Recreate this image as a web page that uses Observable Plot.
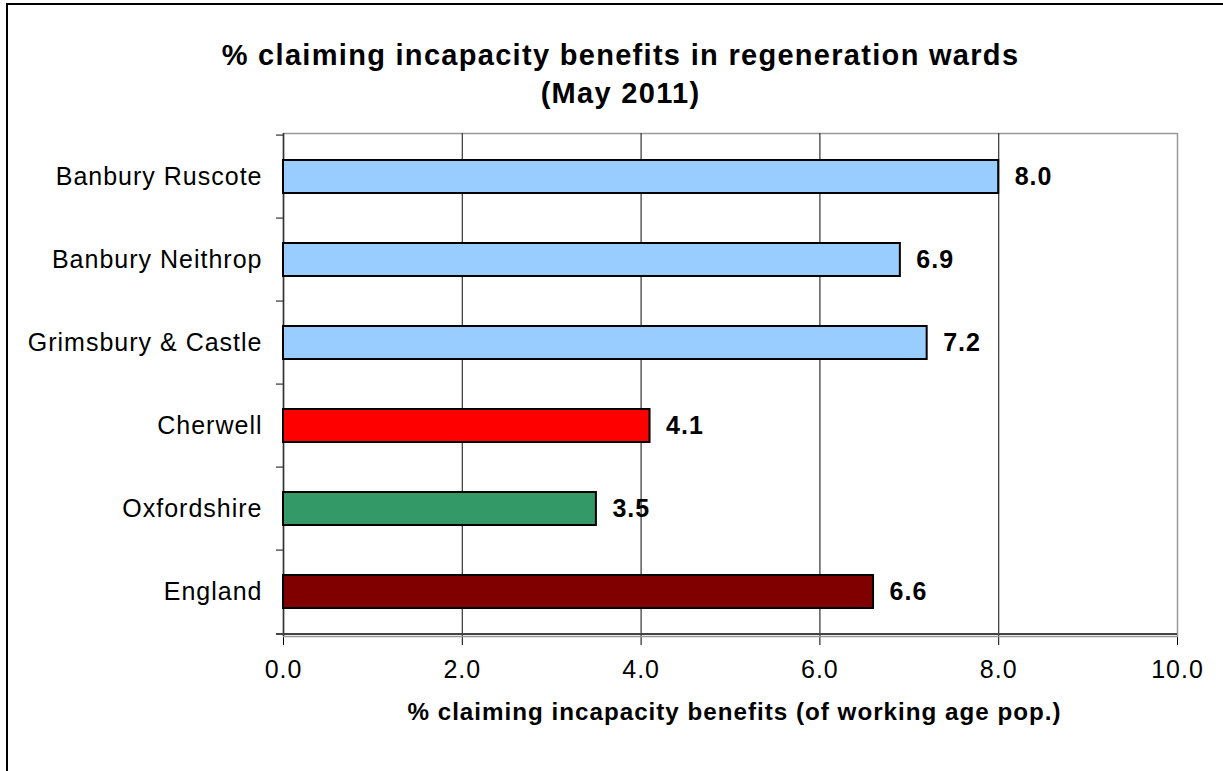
<!DOCTYPE html>
<html><head><meta charset="utf-8">
<script src="https://cdn.jsdelivr.net/npm/d3@7"></script>
<script src="https://cdn.jsdelivr.net/npm/@observablehq/plot@0.6"></script>
<style>
body{margin:0;background:#fff;font-family:"Liberation Sans",Arial,sans-serif;}
#frame{position:absolute;left:6px;top:3px;width:1217px;height:768px;border-top:2px solid #000;border-left:2px solid #000;overflow:hidden;}
#title{height:110px;box-sizing:border-box;padding-top:31px;padding-left:8px;text-align:center;font-weight:bold;font-size:29px;line-height:38px;letter-spacing:1.3px;color:#000;}
</style></head>
<body>
<div id="frame"><div id="title"></div><div id="chart"></div></div>
<script>
const titleLines = ["% claiming incapacity benefits in regeneration wards", "(May 2011)"];
const categories = ["Banbury Ruscote", "Banbury Neithrop", "Grimsbury & Castle", "Cherwell", "Oxfordshire", "England"];
const values = [8.0, 6.9, 7.2, 4.1, 3.5, 6.6];
const colors = ["#99CCFF", "#99CCFF", "#99CCFF", "#FF0000", "#339966", "#800000"];
const xTicks = [0, 2, 4, 6, 8, 10];
const gridTicks = [2, 4, 6, 8];
const xLabel = "% claiming incapacity benefits (of working age pop.)";

document.getElementById("title").innerHTML = titleLines.map(s => s.replace(/&/g,"&amp;")).join("<br>");

const data = categories.map((name, i) => ({name, value: values[i], color: colors[i]}));

const W = 1215, H = 651, mt = 18, mb = 130, ml = 275, mr = 46;
const pi = 0.6, po = 0.3;
const step = (H - mt - mb) / (categories.length - pi + 2 * po);

const chart = Plot.plot({
  width: W, height: H,
  marginTop: mt, marginBottom: mb, marginLeft: ml, marginRight: mr,
  style: {fontFamily: "'Liberation Sans', Arial, sans-serif", fontSize: "25px", color: "#000", background: "#fff", letterSpacing: "1px"},
  x: {domain: [0, 10], ticks: xTicks, tickFormat: d => d.toFixed(1), tickSize: 9, tickPadding: 15, label: null},
  y: {domain: categories, paddingInner: pi, paddingOuter: po, tickSize: 0, tickPadding: 21, label: null},
  color: {type: "identity"},
  marks: [
    Plot.frame({stroke: "#999", strokeWidth: 1.5}),
    Plot.ruleX(gridTicks, {stroke: "#333", strokeWidth: 1.2}),
    Plot.ruleX([0], {stroke: "#333", strokeWidth: 1.5}),
    Plot.ruleY(categories, {y: d => d, dy: -step / 2, x1: 0, x2: 0, insetLeft: -7, stroke: "#333", strokeWidth: 1.2}),
    Plot.ruleY([categories[categories.length - 1]], {y: d => d, dy: step / 2, insetLeft: -7, stroke: "#444", strokeWidth: 2}),
    Plot.barX(data, {x: "value", y: "name", fill: "color", stroke: "#000", strokeWidth: 2}),
    Plot.text(data, {x: "value", y: "name", text: d => d.value.toFixed(1), dx: 16, textAnchor: "start", fontWeight: "bold", fontSize: 25, fill: "#000"}),
    Plot.text([xLabel], {text: d => d, frameAnchor: "bottom", dx: 4, dy: 83, fontWeight: "bold", fontSize: 24.2, fill: "#000"})
  ]
});
document.getElementById("chart").appendChild(chart);
</script>
</body></html>
